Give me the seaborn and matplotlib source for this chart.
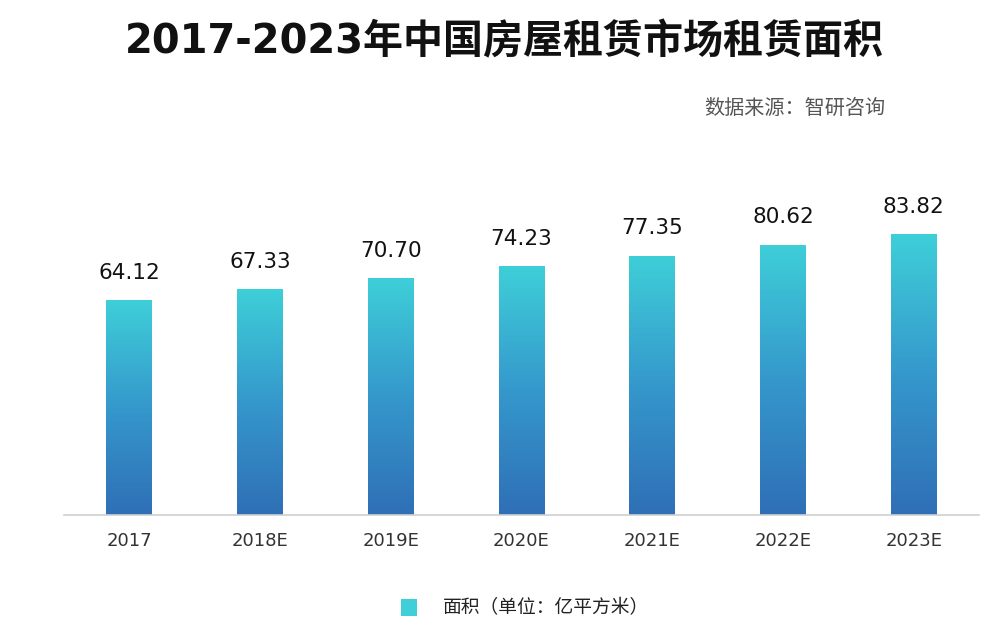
import numpy as np
import pandas as pd
import matplotlib
matplotlib.use("Agg")
import matplotlib.pyplot as plt
import seaborn as sns
from matplotlib.colors import LinearSegmentedColormap
from matplotlib.patches import Rectangle

years = ["2017", "2018E", "2019E", "2020E", "2021E", "2022E", "2023E"]
areas = [64.12, 67.33, 70.70, 74.23, 77.35, 80.62, 83.82]
title = "2017-2023年中国房屋租赁市场租赁面积"
source = "数据来源：智研咨询"
legend_label = "面积（单位：亿平方米）"

sns.set_theme(style="white")
plt.rcParams['font.family'] = ['Noto Sans CJK SC', 'DejaVu Sans']

fig = plt.figure(figsize=(9.99, 6.33), dpi=100)
ax = fig.add_axes([0.064, 0.1864, 0.916, 0.4766])

df = pd.DataFrame({"year": years, "area": areas})
sns.barplot(data=df, x="year", y="area", ax=ax, color="#3ECFD8", width=0.35,
            saturation=1)

cmap = LinearSegmentedColormap.from_list("g", ["#2F6FB6", "#3598CC", "#3ECFD8"])
grad = np.linspace(0, 1, 256).reshape(-1, 1)
for p, v in zip(ax.patches, areas):
    x0, w = p.get_x(), p.get_width()
    y0, h = p.get_y(), p.get_height()
    im = ax.imshow(grad, cmap=cmap, aspect="auto", origin="lower",
                   extent=[x0, x0 + w, y0, y0 + h], zorder=2)
    im.set_clip_path(p)
    p.set_facecolor("none")
    ax.text(x0 + w / 2, v + 5.2, f"{v:.2f}", ha="center", va="bottom",
            fontsize=15.5, color="#111111", family="DejaVu Sans")

ax.set_xlim(-0.5, 6.5)
ax.set_ylim(0, 90)
ax.set_xlabel("")
ax.set_ylabel("")
ax.set_yticks([])
for s in ["top", "right", "left"]:
    ax.spines[s].set_visible(False)
ax.spines["bottom"].set_color("#d0d0d0")
ax.spines["bottom"].set_linewidth(1.2)
ax.tick_params(axis="x", length=0, pad=12, labelsize=13, labelcolor="#333333")
for t in ax.get_xticklabels():
    t.set_family("DejaVu Sans")

fig.text(0.505, 0.933, title, ha="center", va="center", fontsize=28.8,
         fontweight="bold", color="#111111",
         family=["DejaVu Sans", "Noto Sans CJK SC"])
fig.text(0.886, 0.829, source, ha="right", va="center", fontsize=14.5,
         color="#555555", style="italic")

fig.patches.append(Rectangle((0.401, 0.027), 0.016, 0.026, transform=fig.transFigure,
                             facecolor="#3ECFD8", edgecolor="none"))
fig.text(0.443, 0.040, legend_label, ha="left", va="center", fontsize=13.5,
         color="#222222", style="italic")

fig.savefig("out.png", dpi=100, facecolor="white")
